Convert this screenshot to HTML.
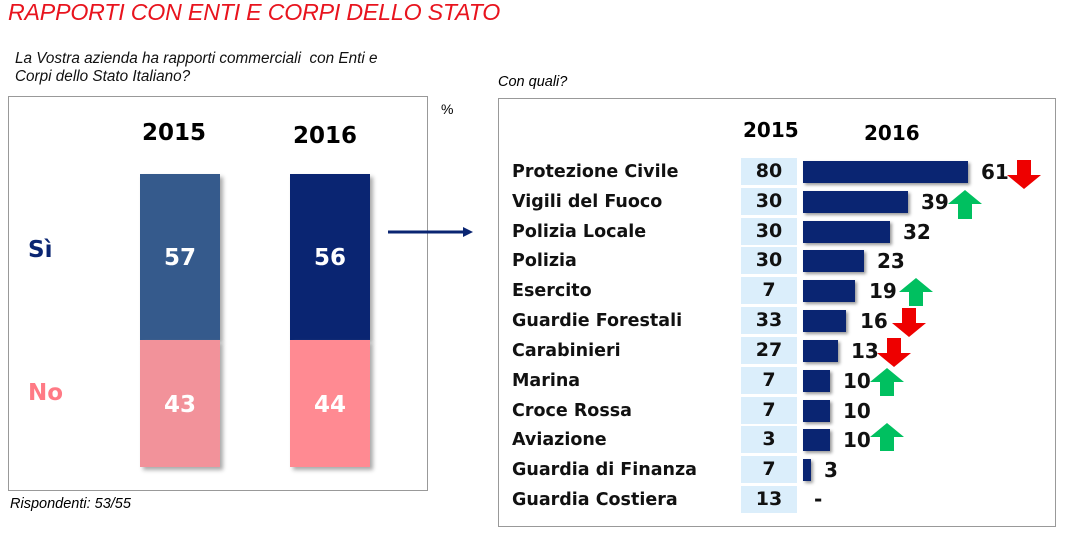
<!DOCTYPE html>
<html><head><meta charset="utf-8"><style>
body{margin:0;width:1089px;height:534px;background:#fff;position:relative;overflow:hidden;font-family:"Liberation Sans",sans-serif}
.a{position:absolute}
.b{font-weight:bold;font-family:"DejaVu Sans",sans-serif}
.lab{position:absolute;left:512px;font-weight:bold;font-family:"DejaVu Sans",sans-serif;font-size:17.5px;color:#111;height:30px;line-height:30px}
.c15{position:absolute;left:741px;width:56px;height:27px;background:#dbeefb;font-weight:bold;font-family:"DejaVu Sans",sans-serif;font-size:19px;text-align:center;line-height:27px;color:#111}
.bar{position:absolute;left:803px;height:22px;background:#0a2572;box-shadow:2px 2px 3px #999}
.v{position:absolute;font-weight:bold;font-family:"DejaVu Sans",sans-serif;font-size:20px;line-height:22px;color:#111}
</style></head><body>
<div class="a" style="left:8px;top:-1px;font-size:23.2px;color:#e8141e;font-style:italic;letter-spacing:-0.2px">RAPPORTI CON ENTI E CORPI DELLO STATO</div>
<div class="a" style="left:15px;top:50px;font-size:15.3px;font-style:italic;line-height:18px;color:#111">La Vostra azienda ha rapporti commerciali&nbsp; con Enti e<br>Corpi dello Stato Italiano?</div>
<div class="a" style="left:8px;top:96px;width:418px;height:393px;border:1px solid #999"></div>
<div class="a" style="left:441px;top:101px;font-size:14px">%</div>
<div class="a b" style="left:142px;top:120px;font-size:23px">2015</div>
<div class="a b" style="left:293px;top:123px;font-size:23px">2016</div>
<div class="a b" style="left:28px;top:237px;font-size:23px;color:#0a2572">Sì</div>
<div class="a b" style="left:28px;top:380px;font-size:23px;color:#ff7a85">No</div>
<div class="a" style="left:140px;top:174px;width:80px;height:166px;background:#355a8c;box-shadow:3px 3px 4px #aaa"></div>
<div class="a" style="left:140px;top:340px;width:80px;height:127px;background:#f2929a;box-shadow:3px 3px 4px #aaa"></div>
<div class="a" style="left:290px;top:174px;width:80px;height:166px;background:#0a2572;box-shadow:3px 3px 4px #aaa"></div>
<div class="a" style="left:290px;top:340px;width:80px;height:127px;background:#ff8a92;box-shadow:3px 3px 4px #aaa"></div>
<div class="a b" style="left:140px;width:80px;text-align:center;top:245px;font-size:23px;color:#fff">57</div>
<div class="a b" style="left:290px;width:80px;text-align:center;top:245px;font-size:23px;color:#fff">56</div>
<div class="a b" style="left:140px;width:80px;text-align:center;top:392px;font-size:23px;color:#fff">43</div>
<div class="a b" style="left:290px;width:80px;text-align:center;top:392px;font-size:23px;color:#fff">44</div>
<div class="a" style="left:10px;top:496px;font-size:14.5px;font-style:italic">Rispondenti: 53/55</div>
<svg class="a" style="left:385px;top:222px" width="90" height="20"><line x1="3" y1="10" x2="80" y2="10" stroke="#0a2572" stroke-width="3"/><polygon points="78,5 88,10 78,15" fill="#0a2572"/></svg>
<div class="a" style="left:498px;top:74px;font-size:14.5px;font-style:italic">Con quali?</div>
<div class="a" style="left:498px;top:98px;width:556px;height:427px;border:1px solid #999"></div>
<div class="a b" style="left:743px;top:118px;font-size:20px">2015</div>
<div class="a b" style="left:864px;top:121px;font-size:20px">2016</div>
<div class="lab" style="top:157px">Protezione Civile</div><div class="c15" style="top:158px">80</div><div class="bar" style="top:161px;width:165px"></div><div class="v" style="left:981px;top:161px">61</div>
<div class="lab" style="top:187px">Vigili del Fuoco</div><div class="c15" style="top:188px">30</div><div class="bar" style="top:191px;width:105px"></div><div class="v" style="left:921px;top:191px">39</div>
<div class="lab" style="top:217px">Polizia Locale</div><div class="c15" style="top:218px">30</div><div class="bar" style="top:221px;width:87px"></div><div class="v" style="left:903px;top:221px">32</div>
<div class="lab" style="top:246px">Polizia</div><div class="c15" style="top:247px">30</div><div class="bar" style="top:250px;width:61px"></div><div class="v" style="left:877px;top:250px">23</div>
<div class="lab" style="top:276px">Esercito</div><div class="c15" style="top:277px">7</div><div class="bar" style="top:280px;width:52px"></div><div class="v" style="left:869px;top:280px">19</div>
<div class="lab" style="top:306px">Guardie Forestali</div><div class="c15" style="top:307px">33</div><div class="bar" style="top:310px;width:43px"></div><div class="v" style="left:860px;top:310px">16</div>
<div class="lab" style="top:336px">Carabinieri</div><div class="c15" style="top:337px">27</div><div class="bar" style="top:340px;width:35px"></div><div class="v" style="left:851px;top:340px">13</div>
<div class="lab" style="top:366px">Marina</div><div class="c15" style="top:367px">7</div><div class="bar" style="top:370px;width:27px"></div><div class="v" style="left:843px;top:370px">10</div>
<div class="lab" style="top:396px">Croce Rossa</div><div class="c15" style="top:397px">7</div><div class="bar" style="top:400px;width:27px"></div><div class="v" style="left:843px;top:400px">10</div>
<div class="lab" style="top:425px">Aviazione</div><div class="c15" style="top:426px">3</div><div class="bar" style="top:429px;width:27px"></div><div class="v" style="left:843px;top:429px">10</div>
<div class="lab" style="top:455px">Guardia di Finanza</div><div class="c15" style="top:456px">7</div><div class="bar" style="top:459px;width:8px"></div><div class="v" style="left:824px;top:459px">3</div>
<div class="lab" style="top:485px">Guardia Costiera</div><div class="c15" style="top:486px">13</div><div class="v" style="left:814px;top:488px">-</div>
<svg class="a" style="left:0;top:0" width="1089" height="534">
<g fill="#e00">
<polygon points="1017,160 1031,160 1031,175 1041,175 1024,189 1007,175 1017,175"/>
<polygon points="902,308 916,308 916,323 926,323 909,337 892,323 902,323"/>
<polygon points="887,338 901,338 901,353 911,353 894,367 877,353 887,353"/>
</g>
<g fill="#00c060">
<polygon points="965,190 982,204 972,204 972,219 958,219 958,204 948,204"/>
<polygon points="916,278 933,292 923,292 923,306 909,306 909,292 899,292"/>
<polygon points="887,368 904,382 894,382 894,396 880,396 880,382 870,382"/>
<polygon points="887,423 904,437 894,437 894,451 880,451 880,437 870,437"/>
</g>
</svg>
</body></html>
